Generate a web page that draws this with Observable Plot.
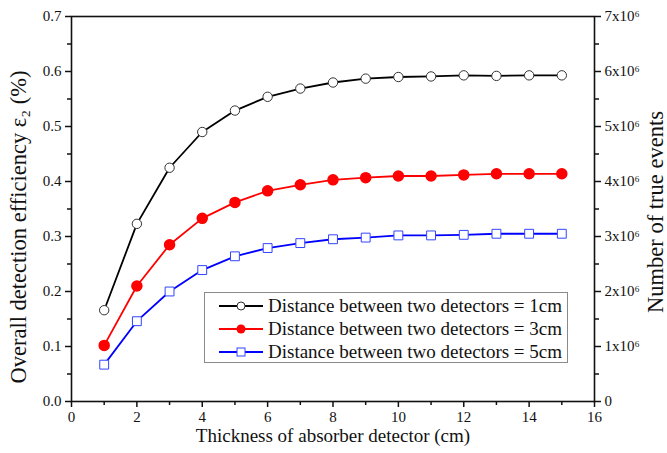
<!DOCTYPE html>
<html>
<head>
<meta charset="utf-8">
<script src="https://cdn.jsdelivr.net/npm/d3@7"></script>
<script src="https://cdn.jsdelivr.net/npm/@observablehq/plot@0.6"></script>
<style>
  html, body { margin: 0; padding: 0; background: #fff; }
  #wrap { position: relative; width: 667px; height: 453px; font-family: 'Liberation Serif', 'DejaVu Serif', serif; }
  #wrap svg text { font-family: 'Liberation Serif', 'DejaVu Serif', serif; }
  #legend { position: absolute; left: 204px; top: 292px; width: 364px; height: 71px; border: 1.5px solid #8a8a8a; background: #fff; box-sizing: border-box; padding-top: 2px; }
  .row { display: flex; align-items: center; height: 22.8px; font-size: 19px; color: #111; white-space: nowrap; }
  .row svg { margin-left: 14px; margin-right: 5px; }
</style>
</head>
<body>
<div id="wrap"></div>
<script>
const thickness = [1,2,3,4,5,6,7,8,9,10,11,12,13,14,15];
const eff1cm = [0.166,0.323,0.425,0.490,0.529,0.554,0.569,0.580,0.587,0.590,0.591,0.593,0.592,0.593,0.593];
const eff3cm = [0.102,0.210,0.285,0.333,0.362,0.383,0.394,0.403,0.407,0.410,0.410,0.412,0.414,0.414,0.414];
const eff5cm = [0.067,0.146,0.200,0.239,0.264,0.279,0.288,0.295,0.298,0.302,0.302,0.303,0.305,0.305,0.305];
const seriesNames = ["Distance between two detectors = 1cm","Distance between two detectors = 3cm","Distance between two detectors = 5cm"];
const seriesColors = ["#000000","#ff0000","#0000ff"];
const xMajorTicks = [0,2,4,6,8,10,12,14,16];
const xMinorTicks = [1,3,5,7,9,11,13,15];
const yMajorTicks = [0,0.1,0.2,0.3,0.4,0.5,0.6,0.7];
const yMinorTicks = [0.05,0.15,0.25,0.35,0.45,0.55,0.65];
const rightTickLabels = ["0","1x10⁶","2x10⁶","3x10⁶","4x10⁶","5x10⁶","6x10⁶","7x10⁶"];

const mk = (vals, s) => thickness.map((t, i) => ({t, v: vals[i], s}));
const d1 = mk(eff1cm, 0), d3c = mk(eff3cm, 1), d5 = mk(eff5cm, 2);
const blank = () => "";

const chart = Plot.plot({
  width: 667, height: 453,
  marginLeft: 71, marginRight: 73, marginTop: 16, marginBottom: 52,
  style: {fontFamily: "'Liberation Serif', 'DejaVu Serif', serif", fontSize: "15px", color: "#111", background: "#fff"},
  x: {domain: [0, 16]},
  y: {domain: [0, 0.7]},
  marks: [
    Plot.frame({stroke: "#111", strokeWidth: 1.6}),
    Plot.axisX({ticks: xMajorTicks, tickSize: 6, tickPadding: 4, tickFormat: d3.format("d"), label: null, fontSize: 15, strokeWidth: 1.5}),
    Plot.axisX({ticks: xMinorTicks, tickSize: 4, tickFormat: blank, label: null, strokeWidth: 1.5}),
    Plot.axisY({ticks: yMajorTicks, tickSize: 6, tickPadding: 4, tickFormat: d3.format(".1f"), label: null, fontSize: 15, strokeWidth: 1.5}),
    Plot.axisY({ticks: yMinorTicks, tickSize: 4, tickFormat: blank, label: null, strokeWidth: 1.5}),
    Plot.axisY({anchor: "right", ticks: yMajorTicks, tickSize: 6, tickPadding: 4, tickFormat: (d, i) => rightTickLabels[i], label: null, fontSize: 15, strokeWidth: 1.5}),
    Plot.axisY({anchor: "right", ticks: yMinorTicks, tickSize: 4, tickFormat: blank, label: null, strokeWidth: 1.5}),
    Plot.line(d1, {x: "t", y: "v", stroke: seriesColors[0], strokeWidth: 1.8}),
    Plot.line(d3c, {x: "t", y: "v", stroke: seriesColors[1], strokeWidth: 1.8}),
    Plot.line(d5, {x: "t", y: "v", stroke: seriesColors[2], strokeWidth: 1.8}),
    Plot.dot(d1, {x: "t", y: "v", r: 4.7, fill: "#fff", stroke: "#333", strokeWidth: 1}),
    Plot.dot(d3c, {x: "t", y: "v", r: 5, fill: seriesColors[1], stroke: seriesColors[1]}),
    Plot.dot(d5, {x: "t", y: "v", symbol: "square", r: 5, fill: "#fff", stroke: "#3344ff", strokeWidth: 1}),
    Plot.text(["Thickness of absorber detector (cm)"], {frameAnchor: "bottom", dy: 40, fontSize: 19, fill: "#111"}),
    Plot.text(["Overall detection efficiency ε₂ (%)"], {frameAnchor: "left", textAnchor: "middle", dx: -53, dy: 18, rotate: -90, fontSize: 22.5, fill: "#111"}),
    Plot.text(["Number of true events"], {frameAnchor: "right", textAnchor: "middle", dx: 61, dy: 3, rotate: -90, fontSize: 22.5, fill: "#111"})
  ]
});
const wrap = document.getElementById("wrap");
wrap.appendChild(chart);

const legend = document.createElement("div");
legend.id = "legend";
const symbols = [
  c => `<circle cx="22" cy="6" r="4" fill="#fff" stroke="#333"/>`,
  c => `<circle cx="22" cy="6" r="4.5" fill="${c}"/>`,
  c => `<rect x="18" y="2" width="8" height="8" fill="#fff" stroke="#3344ff"/>`
];
seriesNames.forEach((name, i) => {
  const row = document.createElement("div");
  row.className = "row";
  row.innerHTML = `<svg width="44" height="12"><line x1="0" x2="44" y1="6" y2="6" stroke="${seriesColors[i]}" stroke-width="1.8"/>${symbols[i](seriesColors[i])}</svg><span>${name}</span>`;
  legend.appendChild(row);
});
wrap.appendChild(legend);
</script>
</body>
</html>
